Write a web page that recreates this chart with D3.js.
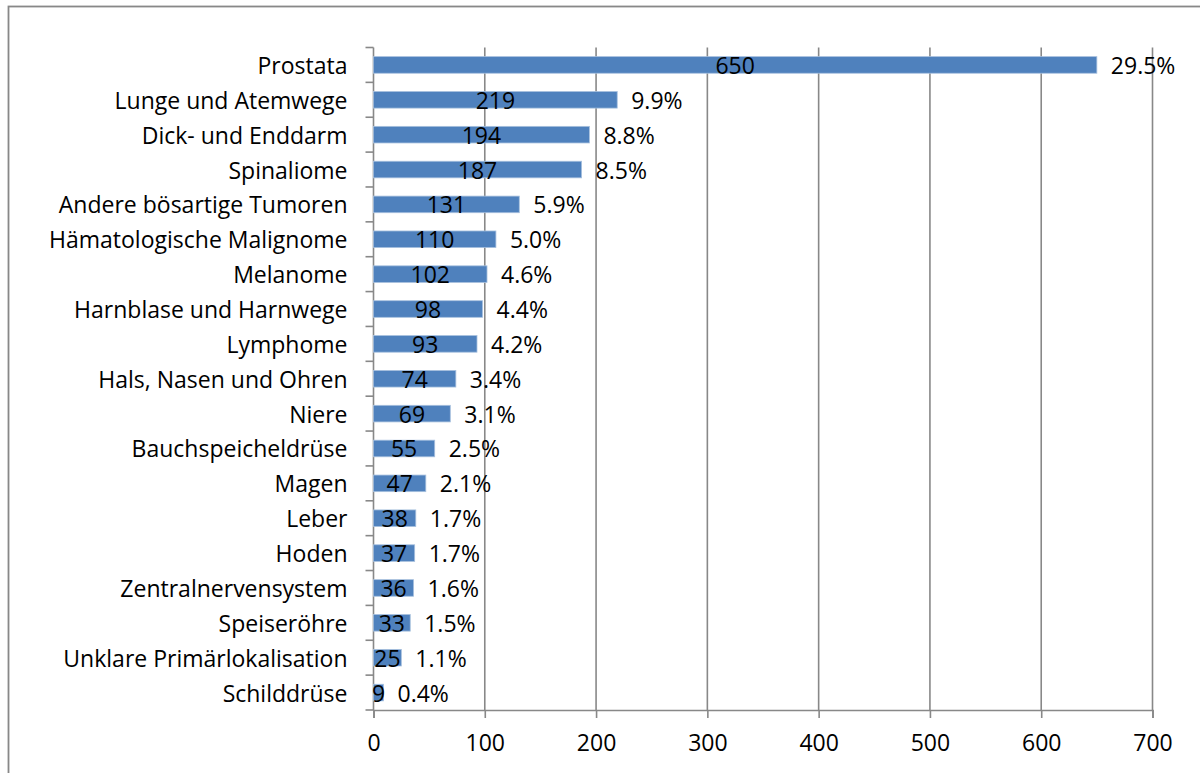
<!DOCTYPE html>
<html>
<head>
<meta charset="utf-8">
<script src="https://cdn.jsdelivr.net/npm/d3@7"></script>
<style>
  html, body { margin: 0; padding: 0; background: #fff; }
  svg { display: block; }
  text { font-family: "Open Sans", "Noto Sans", sans-serif; fill: #000; }
</style>
</head>
<body>
<svg id="chart" width="1200" height="773"></svg>
<script>
// Tumour sites, counts and share of all cases
const categories = [
  "Prostata", "Lunge und Atemwege", "Dick- und Enddarm", "Spinaliome",
  "Andere bösartige Tumoren", "Hämatologische Malignome", "Melanome",
  "Harnblase und Harnwege", "Lymphome", "Hals, Nasen und Ohren", "Niere",
  "Bauchspeicheldrüse", "Magen", "Leber", "Hoden", "Zentralnervensystem",
  "Speiseröhre", "Unklare Primärlokalisation", "Schilddrüse"
];
const counts = [650, 219, 194, 187, 131, 110, 102, 98, 93, 74, 69, 55, 47, 38, 37, 36, 33, 25, 9];
const shares = ["29.5%", "9.9%", "8.8%", "8.5%", "5.9%", "5.0%", "4.6%", "4.4%", "4.2%", "3.4%",
                "3.1%", "2.5%", "2.1%", "1.7%", "1.7%", "1.6%", "1.5%", "1.1%", "0.4%"];
const xTicks = [0, 100, 200, 300, 400, 500, 600, 700];

const svg = d3.select("#chart");
const margin = { left: 373.5, right: 47.5, top: 47.5, bottom: 63 };
const W = 1200, H = 773;
const gridColor = "#888888";
const fontSize = 23;
const fontFamily = "'Open Sans', 'Noto Sans', sans-serif";

// chart frame
svg.append("rect")
  .attr("x", 8.5).attr("y", 6.5)
  .attr("width", 1400).attr("height", 1000)
  .attr("fill", "none").attr("stroke", gridColor).attr("stroke-width", 1.8);

const x = d3.scaleLinear().domain([0, 700]).range([margin.left, W - margin.right]);
const y = d3.scaleBand().domain(categories)
  .range([margin.top, H - margin.bottom])
  .paddingInner(1.1 / 2.1).paddingOuter(1.1 / 4.2);
const band = d3.scaleBand().domain(categories).range([margin.top, H - margin.bottom]);
const yBottom = H - margin.bottom;

// vertical gridlines
svg.append("g").selectAll("line").data(xTicks.slice(1)).join("line")
  .attr("x1", d => x(d)).attr("x2", d => x(d))
  .attr("y1", margin.top).attr("y2", yBottom)
  .attr("stroke", gridColor).attr("stroke-width", 1.6);

// x axis
const xAxis = svg.append("g").attr("transform", `translate(0,${yBottom})`)
  .call(d3.axisBottom(x).tickValues(xTicks).tickSize(8).tickPadding(17));
xAxis.select(".domain").attr("stroke", gridColor).attr("stroke-width", 1.6);
xAxis.selectAll(".tick line").attr("stroke", gridColor).attr("stroke-width", 1.6);
xAxis.selectAll("text").attr("font-size", fontSize)
  .attr("font-family", fontFamily).attr("fill", "#000");

// y axis line with ticks at band boundaries
const yAxisG = svg.append("g");
yAxisG.append("line")
  .attr("x1", x(0)).attr("x2", x(0))
  .attr("y1", margin.top).attr("y2", yBottom)
  .attr("stroke", gridColor).attr("stroke-width", 1.6);
const boundaries = categories.map(c => band(c)).concat([yBottom]);
yAxisG.selectAll("line.tk").data(boundaries).join("line").attr("class", "tk")
  .attr("x1", x(0) - 8).attr("x2", x(0))
  .attr("y1", d => d).attr("y2", d => d)
  .attr("stroke", gridColor).attr("stroke-width", 1.6);

// category labels
svg.append("g").selectAll("text").data(categories).join("text")
  .attr("x", x(0) - 26)
  .attr("y", d => band(d) + band.bandwidth() / 2)
  .attr("text-anchor", "end").attr("dominant-baseline", "central")
  .attr("font-size", fontSize)
  .text(d => d);

// bars
const rows = categories.map((c, i) => ({ c, v: counts[i], p: shares[i] }));
svg.append("g").selectAll("rect").data(rows).join("rect")
  .attr("x", x(0))
  .attr("y", d => y(d.c))
  .attr("width", d => x(d.v) - x(0))
  .attr("height", y.bandwidth())
  .attr("fill", "#4f81bd")
  .attr("stroke", "#a7c0de").attr("stroke-width", 0.8);

// count labels, centred in each bar
svg.append("g").selectAll("text").data(rows).join("text")
  .attr("x", d => (x(0) + x(d.v)) / 2)
  .attr("y", d => band(d.c) + band.bandwidth() / 2)
  .attr("text-anchor", "middle").attr("dominant-baseline", "central")
  .attr("font-size", fontSize)
  .text(d => d.v);

// share labels after each bar
svg.append("g").selectAll("text").data(rows).join("text")
  .attr("x", d => x(d.v) + 14)
  .attr("y", d => band(d.c) + band.bandwidth() / 2)
  .attr("text-anchor", "start").attr("dominant-baseline", "central")
  .attr("font-size", fontSize)
  .text(d => d.p);
</script>
</body>
</html>
